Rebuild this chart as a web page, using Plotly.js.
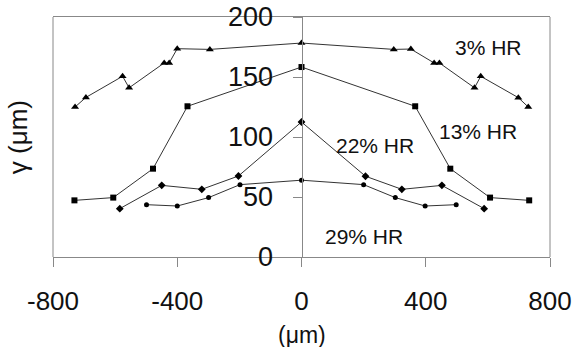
<!DOCTYPE html>
<html><head><meta charset="utf-8">
<script src="https://cdn.plot.ly/plotly-3.0.1.min.js"></script>
<style>html,body{margin:0;padding:0;background:#fff}#c{width:575px;height:347px}</style>
</head><body><div id="c"></div>
<script>
// 3% HR (triangles)
const x3 = [-729, -694, -576, -555, -442, -426, -400, -295, 0, 297, 352, 427, 444, 557, 577, 698, 730];
const y3 = [125, 133, 150.6, 141, 161.7, 161.7, 173.6, 173, 178.3, 173, 173.3, 161.7, 161.7, 141, 150.6, 132.8, 125];
// 13% HR (squares)
const x13 = [-731, -606, -478, -367, 0, 366, 479, 607, 733];
const y13 = [47.2, 49.5, 73.6, 125.6, 158.3, 125.6, 73.6, 49.5, 47.2];
// 22% HR (small diamonds)
const x22 = [-585, -450, -321, -203, 0, 206, 323, 452, 588];
const y22 = [40.3, 59.7, 56.4, 67.5, 112.5, 67.3, 56.4, 59.7, 40.3];
// 29% HR (small circles)
const x29 = [-499, -400, -299, -198, 0, 200, 302, 398, 498];
const y29 = [43.6, 42.5, 49.5, 60.3, 64, 60.3, 49.5, 42.5, 43.6];

const xTicks = [-800, -400, 0, 400, 800];
const yTicks = [0, 50, 100, 150, 200];
const labels = ["3% HR", "13% HR", "22% HR", "29% HR"];

const lineCol = '#333';
function tr(x, y, sym, size, name) {
  return {x: x, y: y, mode: 'lines+markers', name: name, type: 'scatter',
    line: {color: lineCol, width: 1},
    marker: {symbol: sym, size: size, color: '#000'}};
}
const data = [
  tr(x3, y3, 'triangle-up', 7, labels[0]),
  tr(x13, y13, 'square', 6, labels[1]),
  tr(x22, y22, 'diamond', 6, labels[2]),
  tr(x29, y29, 'circle', 5, labels[3])
];
const font = {family: 'Liberation Sans, Arial, sans-serif', color: '#111'};
const layout = {
  width: 575, height: 347,
  margin: {l: 53, r: 25, t: 17, b: 90, pad: 0},
  paper_bgcolor: '#fff', plot_bgcolor: '#fff',
  showlegend: false,
  font: font,
  xaxis: {range: [-800, 800], tickvals: xTicks, ticktext: xTicks.map(String),
    showgrid: false, zeroline: false, showline: true, mirror: true,
    linecolor: '#888', linewidth: 1, ticks: 'outside', ticklen: 9, tickcolor: '#888',
    tickfont: {size: 26, family: font.family, color: '#111'}, ticklabelstandoff: 12},
  yaxis: {range: [0, 200], tickvals: yTicks, ticktext: yTicks.map(String),
    anchor: 'free', position: 0.5,
    showgrid: false, zeroline: false, showline: true,
    linecolor: '#888', linewidth: 1, ticks: 'outside', ticklen: 9, tickcolor: '#888',
    tickfont: {size: 27, family: font.family, color: '#111'}, ticklabelstandoff: 14},
  shapes: [
    {type: 'line', xref: 'paper', yref: 'paper', x0: 0, x1: 0, y0: 0, y1: 1, line: {color: '#888', width: 1}, layer: 'below'},
    {type: 'line', xref: 'paper', yref: 'paper', x0: 1, x1: 1, y0: 0, y1: 1, line: {color: '#888', width: 1}, layer: 'below'}
  ],
  annotations: [
    {text: 'γ (μm)', xref: 'paper', yref: 'paper', x: -0.07, y: 0.5, xanchor: 'center', yanchor: 'middle',
     textangle: -90, showarrow: false, font: {size: 26, family: font.family, color: '#111'}},
    {text: '(μm)', xref: 'paper', yref: 'paper', x: 0.5, y: -0.325, xanchor: 'center', yanchor: 'middle',
     showarrow: false, font: {size: 23, family: font.family, color: '#111'}},
    {text: labels[0], x: 601, y: 175, showarrow: false, font: {size: 21, family: font.family, color: '#111'}},
    {text: labels[1], x: 569, y: 105, showarrow: false, font: {size: 21, family: font.family, color: '#111'}},
    {text: labels[2], x: 235, y: 93, showarrow: false, font: {size: 21, family: font.family, color: '#111'}},
    {text: labels[3], x: 202, y: 17, showarrow: false, font: {size: 21, family: font.family, color: '#111'}}
  ]
};
Plotly.newPlot('c', data, layout, {displayModeBar: false, staticPlot: true});
</script></body></html>
